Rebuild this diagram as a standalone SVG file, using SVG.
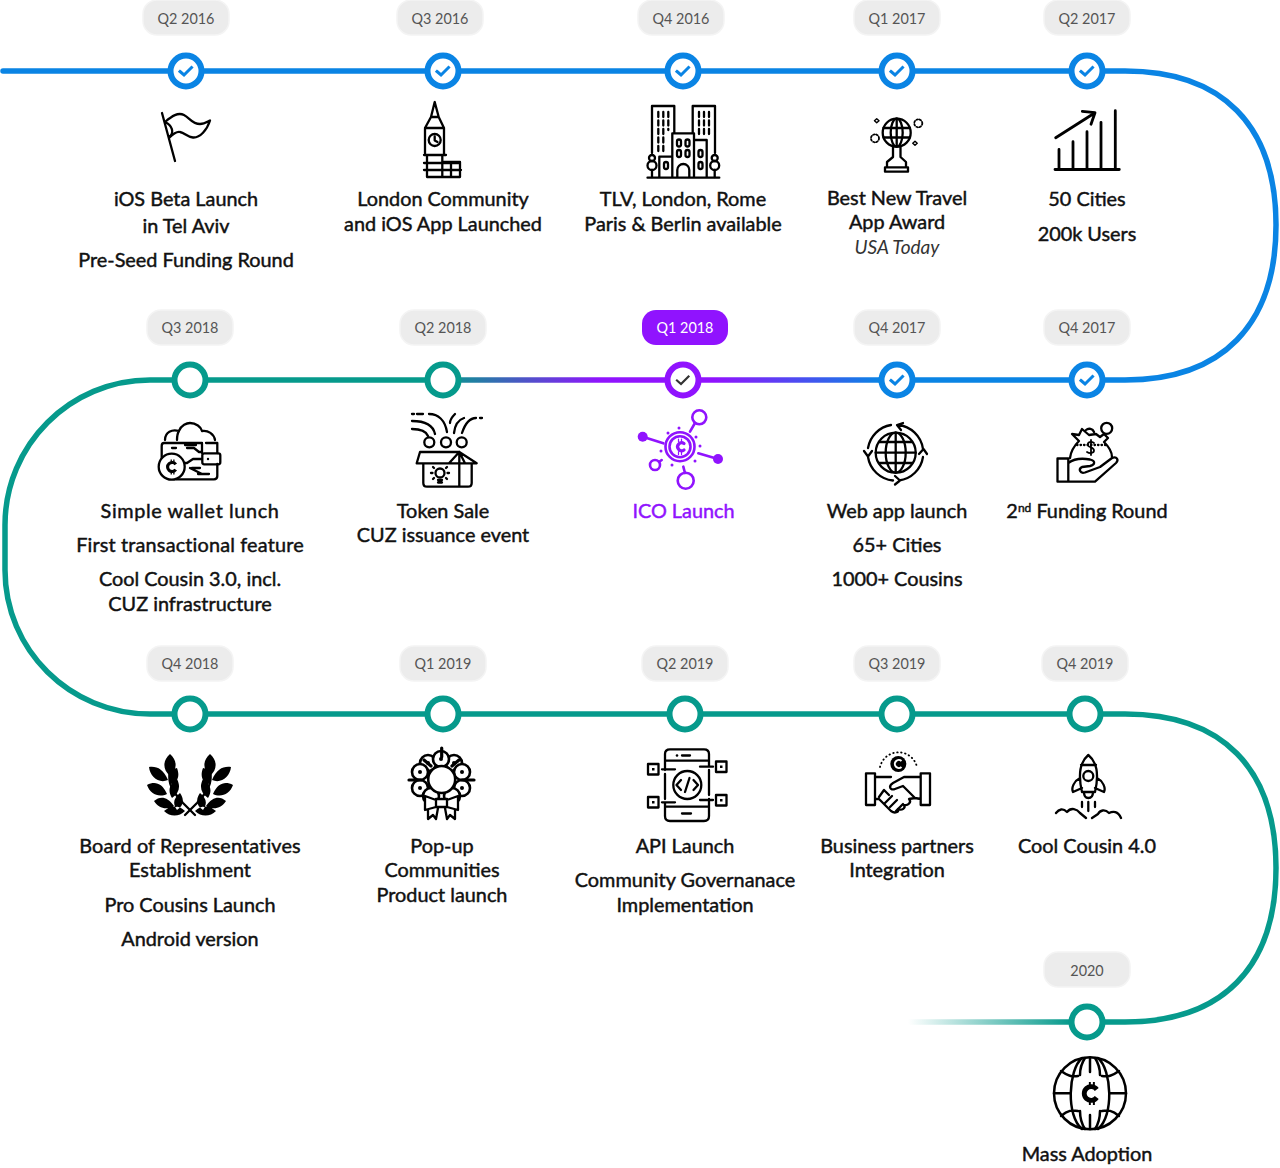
<svg xmlns="http://www.w3.org/2000/svg" width="1280" height="1168" viewBox="0 0 1280 1168">
<style>
text{font-family:Lato,"Noto Sans","Liberation Sans",sans-serif}
.t{font-size:19.850px;fill:#111;stroke:#111;stroke-width:.45;text-anchor:middle}
.b{font-size:14.400px;fill:#555;text-anchor:middle}
.bg{fill:#ececec;stroke:#f4f4f4;stroke-width:1.500}
.nb{fill:#fff;stroke:#0a84e4;stroke-width:6}
.nt{fill:#fff;stroke:#069a8c;stroke-width:6}
.ck{fill:none;stroke:#0a84e4;stroke-width:3;stroke-linecap:square}
.i{fill:none;stroke:#000;stroke-width:2.300;stroke-linecap:round;stroke-linejoin:round}
.f{fill:#000;stroke:none}
.conn{fill:none;stroke-width:5.500}
</style>
<defs>
<linearGradient id="g1" gradientUnits="userSpaceOnUse" x1="443" y1="0" x2="880" y2="0">
<stop offset="0" stop-color="#069a8c"/><stop offset=".36" stop-color="#9013fe"/><stop offset=".62" stop-color="#9013fe"/><stop offset="1" stop-color="#0a84e4"/>
</linearGradient>
<linearGradient id="g2" gradientUnits="userSpaceOnUse" x1="908" y1="0" x2="1070" y2="0">
<stop offset="0" stop-color="#069a8c" stop-opacity="0"/><stop offset="1" stop-color="#069a8c"/>
</linearGradient>
<g id="cedi"><path d="M-1,-10V-5M2.500,-10V-5M-1,5V10M2.500,5V10" stroke="#000" stroke-width="1.700" fill="none"/><path d="M5,-3.500A6,6 0 1 0 5,3.500" fill="none" stroke="#000" stroke-width="4.200"/></g>
</defs>
<g id="connectors">
<path class="conn" stroke="#0a84e4" stroke-linecap="round" d="M3,71H1125C1222,71 1276,125 1276,225C1276,325 1222,380 1125,380H880"/>
<path class="conn" stroke="url(#g1)" d="M443,380H880"/>
<path class="conn" stroke="#069a8c" d="M443,380H150C70,380 5,445 5,525V570C5,650 70,714 150,714H1125C1222,714 1276,768 1276,868C1276,968 1222,1022 1125,1022H1070"/>
<path class="conn" stroke="url(#g2)" d="M908,1022H1070"/>
</g>

<g id="n-q2-2016">
<rect class="bg" x="143" y="0" width="86" height="35" rx="14"/><text class="b" x="186" y="23.500">Q2 2016</text>
<circle class="nb" cx="186" cy="71" r="15.500"/><path class="ck" d="M180,71.500L184,75L191.500,67.500"/>
<path class="i" d="M162,113L175,161M165,122C172,116 178,112 184,115C190,118 192,124 200,124C204,124 207,122 210,120.500C207,130 200,138 193,137.500C187,137 185,133 180,132C176,131 172,135 169,138M165,122C172,125 175,133 169,137"/>
<text class="t" x="186" y="206">iOS Beta Launch</text><text class="t" x="186" y="233">in Tel Aviv</text><text class="t" x="186" y="267">Pre-Seed Funding Round</text>
</g>
<g id="n-q3-2016">
<rect class="bg" x="397" y="0" width="86" height="35" rx="14"/><text class="b" x="440" y="23.500">Q3 2016</text>
<circle class="nb" cx="443" cy="71" r="15.500"/><path class="ck" d="M437,71.500L441,75L448.500,67.500"/>
<path class="i" d="M434.700,102L431,117H438.700ZM431,117L425,128H444L438.700,117M425,128V155H444V128M427,155V177H442.300V155M424,155H446M424,163H460M424,170H461M442.300,162H460V177H442.300M451,163V177"/>
<circle class="i" cx="434.700" cy="140" r="6"/><path class="i" d="M434.700,136.500V140.500L437.500,142"/>
<text class="t" x="443" y="206">London Community</text><text class="t" x="443" y="231">and iOS App Launched</text>
</g>
<g id="n-q4-2016">
<rect class="bg" x="638" y="0" width="86" height="35" rx="14"/><text class="b" x="681" y="23.500">Q4 2016</text>
<circle class="nb" cx="683" cy="71" r="15.500"/><path class="ck" d="M677,71.500L681,75L688.500,67.500"/>
<path class="i" d="M647.500,177.700H719.300M652,153V106H674.300V133.300M692.700,133.300V106H715V153M672.300,177.700V133.300H694V177.700M694,140H706.700V177.700M672.300,156.700H659.300V177.700M677.300,177.700V170A6,6 0 0 1 689.300,170V177.700"/>
<path class="i" stroke-dasharray="5 3.500" stroke-linecap="butt" d="M658.300,112V153M663.300,112V153M668.300,112V130M699,112V136M704,112V136M709,112V136"/>
<path class="i" d="M652,177V170M714.700,177V170"/>
<circle class="i" cx="652" cy="158" r="3"/><circle class="i" cx="652" cy="165.500" r="4.500"/><circle class="i" cx="714.700" cy="158" r="3"/><circle class="i" cx="714.700" cy="165.500" r="4.500"/>
<g class="i"><rect x="677" y="139.500" width="4" height="7" rx="2"/><rect x="685.500" y="139.500" width="4" height="7" rx="2"/><rect x="677" y="150" width="4" height="7" rx="2"/><rect x="685.500" y="150" width="4" height="7" rx="2"/><rect x="698.500" y="150" width="4" height="7" rx="2"/><rect x="698.500" y="162" width="4" height="7" rx="2"/><rect x="664" y="162" width="4" height="7" rx="2"/></g>
<text class="t" x="683" y="206">TLV, London, Rome</text><text class="t" x="683" y="231">Paris &amp; Berlin available</text>
</g>
<g id="n-q1-2017">
<rect class="bg" x="854" y="0" width="86" height="35" rx="14"/><text class="b" x="897" y="23.500">Q1 2017</text>
<circle class="nb" cx="897" cy="71" r="15.500"/><path class="ck" d="M891,71.500L895,75L902.500,67.500"/>
<circle class="i" cx="896.700" cy="132.700" r="14"/><ellipse class="i" cx="896.700" cy="132.700" rx="6" ry="14"/><path class="i" d="M883.500,128H910M883.500,137.500H910M896.700,118.700V146.700M893,147V157L887,162V167M900.500,147V157L906,162V167M885,167.300H908V171.700H885Z"/>
<g class="i" style="stroke-width:1.800" stroke-dasharray="1.500 1.800" stroke-linecap="butt"><circle cx="875" cy="138.300" r="4"/><circle cx="918.300" cy="123.300" r="4"/></g>
<path class="i" style="stroke-width:1.500" d="M876.700,118.700L879,120.700L876.700,122.700L874.500,120.700ZM915,141.300L917.200,143.300L915,145.300L912.800,143.300Z"/>
<text class="t" x="897" y="205">Best New Travel</text><text class="t" x="897" y="229">App Award</text><text class="t" x="897" y="254" style="font-style:italic;font-size:19px;stroke:none;fill:#333">USA Today</text>
</g>
<g id="n-q2-2017">
<rect class="bg" x="1044" y="0" width="86" height="35" rx="14"/><text class="b" x="1087" y="23.500">Q2 2017</text>
<circle class="nb" cx="1087" cy="71" r="15.500"/><path class="ck" d="M1081,71.500L1085,75L1092.500,67.500"/>
<path class="i" style="stroke-width:2.800" d="M1055,169.500H1119.300M1059,169.500V149.500M1073,169.500V141.700M1087,169.500V131.700M1101,169.500V122.300M1115.300,169.500V110.700M1055.700,137.700L1095,112.700M1082.300,111.300L1095,112.700L1091,124.300"/>
<text class="t" x="1087" y="206">50 Cities</text><text class="t" x="1087" y="241">200k Users</text>
</g>

<g id="n-q3-2018">
<rect class="bg" x="147" y="310" width="86" height="35" rx="14"/><text class="b" x="190" y="332.500">Q3 2018</text>
<circle class="nt" cx="190" cy="380" r="15.500"/>
<path class="i" d="M165,440C165,432 172,429 179,431C181,425 187,423 190,423C196,423 201,427 202,431C208,430 214,434 215,440M179,431C177,434 177,437 177,440"/>
<path class="i" d="M202,453V443H164Q161.700,443 161.700,446V462M176,479.300H214Q217.300,479.300 217.300,476V464M217.300,453V443H206M185,445H196M187,448H194L199,452H202M176,448H172M202,459H193L187,463H184M190,468L202,474M192,468H200M198,474H209"/>
<rect class="i" x="202.300" y="453.300" width="18" height="11" rx="2"/><circle class="f" cx="208" cy="459" r="1.200"/>
<circle cx="171.700" cy="466.700" r="13" fill="#fff" stroke="#000" stroke-width="2.300"/><use href="#cedi" transform="translate(172,467) scale(.75)"/>
<text class="t" x="190" y="518" letter-spacing=".6">Simple wallet lunch</text><text class="t" x="190" y="552" letter-spacing=".17">First transactional feature</text><text class="t" x="190" y="586">Cool Cousin 3.0, incl.</text><text class="t" x="190" y="611">CUZ infrastructure</text>
</g>
<g id="n-q2-2018">
<rect class="bg" x="400" y="310" width="86" height="35" rx="14"/><text class="b" x="443" y="332.500">Q2 2018</text>
<circle class="nt" cx="443" cy="380" r="15.500"/>
<circle class="i" cx="429.300" cy="442.300" r="5"/><circle class="i" cx="446" cy="442.300" r="5"/><circle class="i" cx="461.700" cy="442.300" r="5"/>
<path class="i" d="M423.300,463.300V483Q423.300,486.700 427,486.700H468Q471.700,486.700 471.700,483V463.300M459.300,452H420L416.700,463.300H476.700L459.300,452ZM459.300,452L449,463.300M459.300,452V486.700M459.300,452L465,463.300"/>
<circle class="i" cx="440" cy="473" r="4.500"/><path class="i" d="M438,480H442M438,482.500H442M431,473H432.500M447.500,473H449M433,467L434,468M447,467L446,468M433,479L434,478M447,479L446,478"/>
<path class="i" d="M412,414H414M417,414H423M412,421C425,421 433,425 435,434M412,429C421,429 426,431 428,436M429,414C438,414 445,420 447,432M455,414C452,417 450,420 450,423M464,418C458,420 455,424 454,433M482,418H480M476,418C470,418 465,424 462,433"/>
<text class="t" x="443" y="518">Token Sale</text><text class="t" x="443" y="542">CUZ issuance event</text>
</g>
<g id="n-q1-2018">
<rect x="642" y="310" width="86" height="35" rx="14" fill="#9013fe"/><text class="b" x="685" y="332.500" style="fill:#fff">Q1 2018</text>
<circle cx="683" cy="380" r="15.500" fill="#fff" stroke="#9013fe" stroke-width="6"/><path class="ck" style="stroke:#333;stroke-width:2.200" d="M677,380.500L681,384L688.500,376.500"/>
<g fill="none" stroke="#9013fe" stroke-width="2.600" stroke-linecap="round">
<circle cx="680" cy="446.700" r="14.500"/><circle cx="680" cy="446.700" r="10.500"/>
<path d="M642.700,436.700L663.300,443.300M718,459L698.300,453.300M690,431.700L695,423M661.700,460L659,462M683.300,466.700L685,473"/>
<circle cx="699.300" cy="417.300" r="7"/><circle cx="655" cy="465" r="5"/><circle cx="685.700" cy="480.700" r="8"/>
<path d="M684,443.500A4,4 0 1 0 684,450" stroke-width="3.200"/><path d="M678.500,439V442M681.500,439V442M678.500,451.500V454.500M681.500,451.500V454.500" stroke-width="1.200"/>
</g>
<g fill="#9013fe"><circle cx="642.700" cy="436.700" r="5"/><circle cx="718" cy="459" r="5"/><circle cx="668" cy="433" r="1.500"/><circle cx="679" cy="428" r="1.500"/><circle cx="696" cy="437" r="1.500"/><circle cx="700" cy="446" r="1.500"/><circle cx="695" cy="461" r="1.500"/><circle cx="672" cy="465" r="1.500"/><circle cx="661" cy="451" r="1.500"/></g>
<text class="t" x="683.500" y="518" style="fill:#9013fe;stroke:#9013fe">ICO Launch</text>
</g>
<g id="n-q4-2017a">
<rect class="bg" x="854" y="310" width="86" height="35" rx="14"/><text class="b" x="897" y="332.500">Q4 2017</text>
<circle class="nb" cx="897" cy="380" r="15.500"/><path class="ck" d="M891,380.500L895,384L902.500,376.500"/>
<circle class="i" cx="895.700" cy="452.700" r="20"/><ellipse class="i" cx="895.700" cy="452.700" rx="10" ry="20"/><path class="i" d="M875.700,452.700H915.700M895.700,432.700V472.700M879,442H912M879,463H912"/>
<path class="i" d="M898,425A28,28 0 0 1 923,449M923,457A28,28 0 0 1 899,480.500M893,480.500A28,28 0 0 1 868,457M868,448A28,28 0 0 1 891,425M903,423L897,425L901,430M919,454L923.500,449L927,454M895,476L900,480.500L895,484.500M864,451L868,456.500L872,451"/>
<text class="t" x="897" y="518">Web app launch</text><text class="t" x="897" y="552">65+ Cities</text><text class="t" x="897" y="586">1000+ Cousins</text>
</g>
<g id="n-q4-2017b">
<rect class="bg" x="1044" y="310" width="86" height="35" rx="14"/><text class="b" x="1087" y="332.500">Q4 2017</text>
<circle class="nb" cx="1087" cy="380" r="15.500"/><path class="ck" d="M1081,380.500L1085,384L1092.500,376.500"/>
<path class="i" d="M1057.500,458.500H1068.300V481.700H1057.500ZM1068.300,463C1075,458 1082,458 1090,459.500C1096,461 1095,465 1090,466L1082,467C1078,469 1080,474 1085,472.500L1100,467L1112,458C1117,456 1119,460 1116,463L1095,481.700H1068.300"/>
<path class="i" d="M1070,458C1071,450 1075,445 1079,441L1072,434L1079,435L1082,429L1089,435L1096,434L1100,437L1104,434L1108,438L1104,442C1110,448 1112,453 1112,457M1086,430A5,5 0 0 1 1094,432"/>
<circle class="i" cx="1106.700" cy="428.300" r="5.500"/>
<path class="i" stroke-dasharray=".5 3" d="M1077,445H1106"/>
<path class="i" style="stroke-width:1.800" d="M1094,443C1091,441 1087,442 1088,445.500C1089,448 1094,447 1094,450.500C1094,453 1090,454 1087,452M1091,440V455"/>
<text class="t" x="1087" y="518">2<tspan dy="-6" font-size="12">nd</tspan><tspan dy="6"> Funding Round</tspan></text>
</g>

<g id="n-q4-2018">
<rect class="bg" x="147" y="646" width="86" height="35" rx="14"/><text class="b" x="190" y="668.500">Q4 2018</text>
<circle class="nt" cx="190" cy="714" r="15.500"/>
<g id="laurel"><path class="i" d="M195,815L183,803C174,793 167,785 170,770"/>
<path class="f" d="M170,776C162,769 163,760 170,754C177,760 178,769 170,776ZM168,780C163,769 157,766 149,767C150,777 159,784 168,780ZM171,784C166,776 170,770 177,768C180,776 178,782 171,784ZM167,794C162,783 155,781 147,785C150,794 159,798 167,794ZM172,798C167,790 170,784 177,779C181,787 179,793 172,798ZM174,806C167,796 160,796 154,801C159,809 167,810 174,806ZM177,810C172,803 174,798 180,793C185,800 183,806 177,810ZM185,811C178,804 170,806 164,811C170,817 179,817 185,811Z"/></g>
<use href="#laurel" transform="translate(380,0) scale(-1,1)"/>
<text class="t" x="190" y="853" letter-spacing=".15">Board of Representatives</text><text class="t" x="190" y="877">Establishment</text><text class="t" x="190" y="912">Pro Cousins Launch</text><text class="t" x="190" y="946">Android version</text>
</g>
<g id="n-q1-2019">
<rect class="bg" x="400" y="646" width="86" height="35" rx="14"/><text class="b" x="443" y="668.500">Q1 2019</text>
<circle class="nt" cx="443" cy="714" r="15.500"/>
<g fill="#fff" stroke="#000" stroke-width="2.600">
<circle cx="454" cy="763" r="8"/><circle cx="462" cy="772" r="8"/><circle cx="462" cy="788" r="8"/><circle cx="428" cy="763" r="8"/><circle cx="420" cy="772" r="8"/><circle cx="420" cy="788" r="8"/><circle cx="441" cy="759" r="8"/><circle cx="431" cy="796" r="8"/><circle cx="452" cy="796" r="8"/><circle cx="441.700" cy="779.500" r="13.500"/></g>
<g fill="#000"><circle cx="454" cy="763" r="2"/><circle cx="462" cy="772" r="2"/><circle cx="462" cy="788" r="2"/><circle cx="428" cy="763" r="2"/><circle cx="420" cy="772" r="2"/><circle cx="420" cy="788" r="2"/><circle cx="441" cy="759" r="2"/></g>
<path class="i" style="stroke-width:3.200" d="M441.700,748V757M409,780H421M462,780H474M424,760L431,766M459,760L452,766"/>
<path d="M436,799H447V807H436ZM436,800L425,796V810L436,807M447,800L458,796V810L447,807M428,810V819L433,815L436,819L438,808M455,810V819L450,815L447,819L445,808" fill="#fff" stroke="#000" stroke-width="2.300" stroke-linejoin="round"/>
<text class="t" x="442" y="853">Pop-up</text><text class="t" x="442" y="877">Communities</text><text class="t" x="442" y="902">Product launch</text>
</g>
<g id="n-q2-2019">
<rect class="bg" x="642" y="646" width="86" height="35" rx="14"/><text class="b" x="685" y="668.500">Q2 2019</text>
<circle class="nt" cx="685" cy="714" r="15.500"/>
<path class="i" d="M665,770V754Q665,749.300 670,749.300H704Q709,749.300 709,754V766M665,774V799M709,770V795M665,803V816Q665,821 670,821H704Q709,821 709,816V799M665,760.700H709M665,806.700H709M682,755.500H690M682,813.500H691M662,769.300H675M700,766.700H713M662,802.300H675M700,800H713"/>
<circle class="f" cx="677" cy="755.500" r="1.300"/>
<circle class="i" cx="687.300" cy="785" r="14"/><path class="i" d="M681,780L676.500,785L681,790M693.500,780L698,785L693.500,790M689.500,778L685,792"/>
<g class="i"><rect x="648" y="764" width="10.500" height="10.500"/><rect x="716" y="761.500" width="10.500" height="10.500"/><rect x="648" y="797" width="10.500" height="10.500"/><rect x="716" y="795" width="10.500" height="10.500"/></g>
<g class="f"><rect x="652" y="768" width="2.500" height="2.500"/><rect x="720" y="765.500" width="2.500" height="2.500"/><rect x="652" y="801" width="2.500" height="2.500"/><rect x="720" y="799" width="2.500" height="2.500"/></g>
<text class="t" x="685" y="853">API Launch</text><text class="t" x="685" y="887">Community Governanace</text><text class="t" x="685" y="912">Implementation</text>
</g>
<g id="n-q3-2019">
<rect class="bg" x="854" y="646" width="86" height="35" rx="14"/><text class="b" x="897" y="668.500">Q3 2019</text>
<circle class="nt" cx="897" cy="714" r="15.500"/>
<circle class="f" cx="898.300" cy="764" r="8"/><path d="M901.500,761A4,4 0 1 0 901.500,767" fill="none" stroke="#fff" stroke-width="2"/>
<path class="i" style="stroke-width:1.800" stroke-dasharray=".5 3.500" d="M880,767A19,19 0 0 1 917,767"/>
<path class="i" d="M866,773.300H875V805H866ZM920.700,773.300H930V805H920.700ZM875,777H891M920.700,777H904L893,783C888,786 890,791 895,789L903,786L915,798L920.700,799M875,799H879L891,811C895,814 899,812 898,809C902,811 906,808 904,805C908,806 912,802 909,799L915,798"/>
<path class="i" d="M879,797L884,790L889,795M885,803L892,796M890,807L897,800M896,811L903,804"/>
<text class="t" x="897" y="853">Business partners</text><text class="t" x="897" y="877">Integration</text>
</g>
<g id="n-q4-2019">
<rect class="bg" x="1042" y="646" width="86" height="35" rx="14"/><text class="b" x="1085" y="668.500">Q4 2019</text>
<circle class="nt" cx="1085" cy="714" r="15.500"/>
<path class="i" d="M1088.300,755C1080,762 1078,775 1082,792H1095C1099,775 1097,762 1088.300,755ZM1081,765H1096M1080,778C1074,781 1071,788 1073,792L1082,788M1097,778C1103,781 1106,788 1104,792L1095,788M1084,792C1084,796 1086,798 1088.300,798C1091,798 1093,796 1093,792M1082,802V807M1088.300,802V811M1095,802V807M1056,813C1059,809 1063,808 1067,812C1071,807 1077,809 1080,813L1086,818M1121,818C1118,811 1113,811 1109,813C1105,809 1100,810 1098,814L1092,818"/>
<circle class="i" cx="1088.300" cy="776" r="5"/>
<text class="t" x="1087" y="853">Cool Cousin 4.0</text>
</g>
<g id="n-2020">
<rect class="bg" x="1044" y="952" width="86" height="35" rx="14"/><text class="b" x="1087" y="975.500">2020</text>
<circle class="nt" cx="1087" cy="1022" r="15.500"/>
<circle class="i" cx="1090" cy="1093.300" r="36" style="stroke-width:2.500"/>
<path class="i" style="stroke-width:2.500" d="M1082,1058C1068,1070 1066,1116 1082,1129M1098,1058C1112,1070 1114,1116 1098,1129M1085,1058C1081,1064 1080,1070 1080,1075M1095,1058C1099,1064 1100,1070 1100,1075M1085,1129C1081,1123 1080,1117 1080,1111M1095,1129C1099,1123 1100,1117 1100,1111M1090,1058V1072M1090,1115V1129M1054,1093.300H1070M1110,1093.300H1126M1061,1071C1068,1076 1072,1077 1078,1076M1119,1071C1112,1076 1108,1077 1102,1076M1061,1116C1068,1110 1072,1110 1078,1111M1119,1116C1112,1110 1108,1110 1102,1111"/>
<use href="#cedi" transform="translate(1091,1093.500) scale(1.150)"/>
<text class="t" x="1087" y="1161">Mass Adoption</text>
</g>
</svg>
